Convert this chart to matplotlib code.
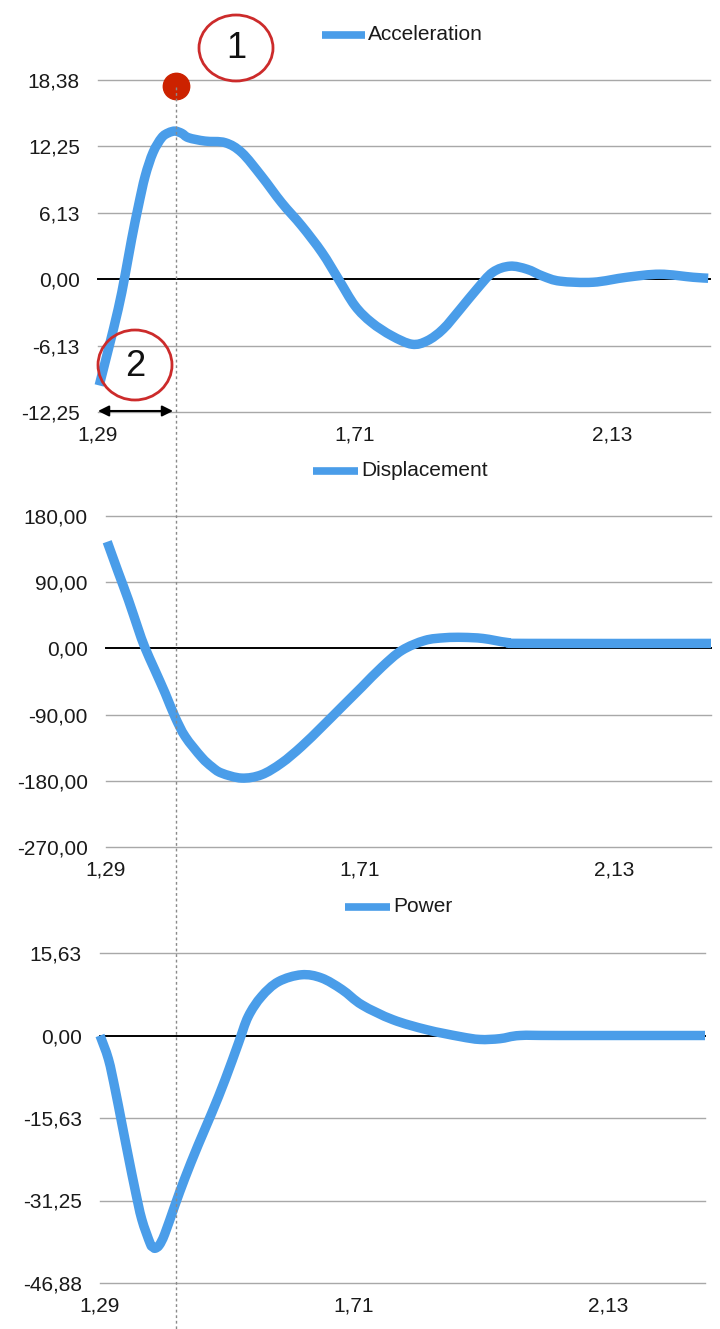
import matplotlib
matplotlib.use("Agg")
import matplotlib.pyplot as plt
import numpy as np
from matplotlib.patches import Ellipse, PathPatch
from matplotlib.path import Path

plt.rcParams['font.family'] = ['Liberation Sans', 'DejaVu Sans']

# time axis (s)
x_ticks = [1.29, 1.71, 2.13]
x_labels = ["1,29", "1,71", "2,13"]
event_t = 1.4175

# acceleration
acc_t = [1.292, 1.307, 1.323, 1.334, 1.345, 1.356, 1.367, 1.380, 1.394, 1.405,
         1.416, 1.427, 1.438, 1.465, 1.498, 1.525, 1.557, 1.590, 1.623, 1.656,
         1.683, 1.710, 1.737, 1.770, 1.803, 1.828, 1.854, 1.882, 1.909, 1.935,
         1.963, 1.991, 2.017, 2.045, 2.099, 2.154, 2.208, 2.262, 2.287]
acc_v = [-9.8, -6.45, -2.76, 0.3, 3.7, 6.75, 9.5, 11.7, 13.05, 13.5,
         13.66, 13.45, 13.05, 12.74, 12.59, 11.67, 9.52, 7.06, 4.91, 2.46,
         0.0, -2.46, -3.99, -5.22, -6.0, -5.68, -4.6, -2.76, -0.92, 0.64,
         1.2, 0.92, 0.28, -0.18, -0.28, 0.18, 0.46, 0.18, 0.09]
acc_ticks = [-12.25, -6.125, 0, 6.125, 12.25, 18.375]
acc_labels = ["-12,25", "-6,13", "0,00", "6,13", "12,25", "18,38"]
peak_marker = 17.8

# displacement
dis_t = [1.292, 1.310, 1.327, 1.343, 1.354, 1.371, 1.388, 1.404, 1.421, 1.448,
         1.465, 1.481, 1.514, 1.547, 1.580, 1.613, 1.647, 1.680, 1.713, 1.746,
         1.779, 1.817, 1.850, 1.880, 1.913, 1.953, 1.986, 2.29]
dis_v = [145, 104, 66, 27, 1.8, -29.8, -61.3, -93, -120, -148,
         -161, -169.5, -176.3, -171.8, -156, -133.5, -106.5, -79.4, -52.4, -25.3,
         -2.7, 10.8, 14.5, 15, 13.5, 8.1, 6.8, 6.8]
dis_ticks = [-270, -180, -90, 0, 90, 180]
dis_labels = ["-270,00", "-180,00", "-90,00", "0,00", "90,00", "180,00"]

# power
pow_t = [1.290, 1.304, 1.315, 1.326, 1.337, 1.348, 1.359, 1.373, 1.377, 1.381,
         1.388, 1.397, 1.414, 1.430, 1.452, 1.475, 1.497, 1.519, 1.535, 1.557,
         1.585, 1.623, 1.656, 1.690, 1.723, 1.774, 1.830, 1.885, 1.918, 1.951,
         1.984, 2.05, 2.29]
pow_v = [0, -4.5, -10.2, -16.6, -23.0, -29.2, -34.8, -39.4, -40.0, -40.3,
         -39.7, -37.6, -32.1, -27.1, -20.8, -14.6, -8.3, -1.4, 3.6, 7.4,
         10.2, 11.5, 10.9, 8.7, 5.8, 3.0, 1.1, -0.2, -0.75, -0.6,
         0, 0, 0]
pow_ticks = [-46.875, -31.25, -15.625, 0, 15.625]
pow_labels = ["-46,88", "-31,25", "-15,63", "0,00", "15,63"]

blue = '#4a9de9'
grid_c = '#a8a8a8'
red = '#cc2b2b'
W, H = 720, 1329

fig = plt.figure(figsize=(W / 100, H / 100), dpi=100)


def px_box(left, right, top, bottom):
    return [left / W, 1 - bottom / H, (right - left) / W, (bottom - top) / H]


def smooth_line(t, v):
    # smoothed line through the points (like a spreadsheet "smoothed line")
    p = np.column_stack([t, v]).astype(float)
    n = len(p)
    verts = [p[0]]
    codes = [Path.MOVETO]
    for i in range(n - 1):
        p0 = p[max(i - 1, 0)]
        p1 = p[i]
        p2 = p[i + 1]
        p3 = p[min(i + 2, n - 1)]
        verts += [p1 + (p2 - p0) / 6, p2 - (p3 - p1) / 6, p2]
        codes += [Path.CURVE4] * 3
    return Path(verts, codes)


def panel(box, t, v, yticks, ylabels):
    ax = fig.add_axes(px_box(*box))
    for yv in yticks:
        if yv == 0:
            ax.axhline(yv, color='black', lw=1.4, zorder=1, clip_on=False)
        else:
            ax.axhline(yv, color=grid_c, lw=1.0, zorder=1, clip_on=False)
    ax.add_patch(PathPatch(smooth_line(t, v), fill=False, ec=blue, lw=6.8,
                           capstyle='butt', joinstyle='round', zorder=3,
                           clip_on=False))
    ax.set_xlim(1.29, 2.29)
    ax.set_ylim(yticks[0], yticks[-1])
    ax.set_yticks(yticks)
    ax.set_yticklabels(ylabels)
    ax.set_xticks(x_ticks)
    ax.set_xticklabels(x_labels)
    ax.tick_params(length=0, labelsize=15, colors='#1a1a1a')
    ax.tick_params(axis='y', pad=13)
    ax.tick_params(axis='x', pad=10)
    for s in ax.spines.values():
        s.set_visible(False)
    ax.patch.set_alpha(0)
    return ax


ax1 = panel((98, 710, 80, 412), acc_t, acc_v, acc_ticks, acc_labels)
ax2 = panel((106, 711, 516, 847), dis_t, dis_v, dis_ticks, dis_labels)
ax3 = panel((100, 705, 953, 1283), pow_t, pow_v, pow_ticks, pow_labels)

# marker above the acceleration peak
ax1.plot([event_t], [peak_marker], 'o', color='#cc2200', ms=19, mec='#cc2200',
         zorder=5, clip_on=False)

# overlay in pixel coordinates for legends and notes
ov = fig.add_axes([0, 0, 1, 1], zorder=10)
ov.set_xlim(0, W)
ov.set_ylim(H, 0)
ov.axis('off')

# legends
for x0, x1, y, name in [(322, 365, 35, "Acceleration"),
                        (313, 358, 471, "Displacement"),
                        (345, 390, 907, "Power")]:
    ov.plot([x0, x1], [y, y], color=blue, lw=5.5, solid_capstyle='butt')
    ov.text(x1 + 3, y, name, fontsize=15, va='center', ha='left', color='#1a1a1a')

# dashed event line
ev_x = ax1.transData.transform((event_t, 0))[0]
ov.plot([ev_x, ev_x], [87, H], color='#8a8a8a', lw=1, ls=(0, (2, 2)), zorder=0)

# circled numbers
ov.add_patch(Ellipse((236, 48), 74, 66, fill=False, ec=red, lw=2))
ov.text(236, 49, "1", fontsize=26, ha='center', va='center', color='#111111')
ov.add_patch(Ellipse((135, 365), 74, 70, fill=False, ec=red, lw=2))
ov.text(135, 366, "2", fontsize=26, ha='center', va='center', color='#111111')

# interval arrow
ov.annotate('', xy=(98, 411), xytext=(ev_x - 3, 411),
            arrowprops=dict(arrowstyle='<|-|>', color='black', lw=1.5,
                            mutation_scale=16, shrinkA=0, shrinkB=0))

fig.savefig('out.png', dpi=100, facecolor='white')
